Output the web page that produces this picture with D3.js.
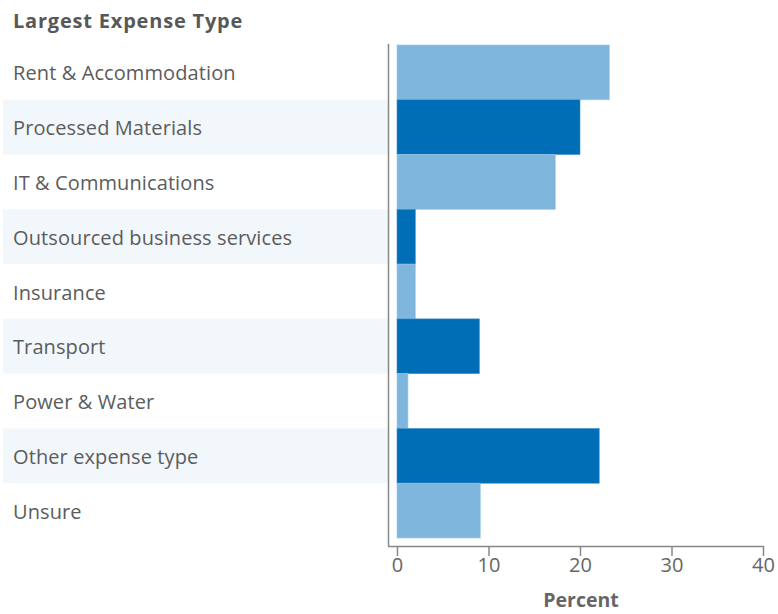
<!DOCTYPE html>
<html>
<head>
<meta charset="utf-8">
<script src="https://cdn.jsdelivr.net/npm/d3@7"></script>
<style>
body{margin:0;background:#fff;}
svg{display:block;font-family:"Open Sans",sans-serif;}
</style>
</head>
<body>
<svg id="chart" width="778" height="614"></svg>
<script>
const categories = ["Rent & Accommodation","Processed Materials","IT & Communications","Outsourced business services","Insurance","Transport","Power & Water","Other expense type","Unsure"];
const values = [23.2, 20.0, 17.3, 2.0, 2.0, 9.0, 1.2, 22.1, 9.1];
const xTicks = [0, 10, 20, 30, 40];
const title = "Largest Expense Type";
const xTitle = "Percent";

const svg = d3.select("#chart");
const x = d3.scaleLinear().domain([0, 40]).range([397, 763]);
const y = d3.scaleBand().domain(categories).range([45, 538]).padding(0);

// alternating background bands
svg.selectAll("rect.band").data(categories.filter((d,i)=>i%2===1)).enter()
  .append("rect").attr("class","band")
  .attr("x",3).attr("width",385)
  .attr("y",d=>y(d)).attr("height",y.bandwidth())
  .attr("fill","#f2f7fc");

// bars
svg.selectAll("rect.bar").data(categories).enter()
  .append("rect").attr("class","bar")
  .attr("x",x(0)).attr("y",d=>y(d))
  .attr("width",(d,i)=>x(values[i])-x(0))
  .attr("height",y.bandwidth())
  .attr("fill",(d,i)=>i%2===0?"#7fb6dd":"#006eb6")
  .attr("stroke",(d,i)=>i%2===0?"#9cc8e6":"#3f92cb")
  .attr("stroke-width",0.6);

// category labels
svg.selectAll("text.cat").data(categories).enter()
  .append("text").attr("class","cat")
  .attr("x",13).attr("y",d=>y(d)+y.bandwidth()/2+8)
  .attr("fill","#5c5c5c").attr("font-size",20).attr("letter-spacing",0.1)
  .text(d=>d);

// title
svg.append("text").attr("x",13).attr("y",27.5)
  .attr("fill","#585858").attr("font-size",20).attr("font-weight","bold")
  .attr("letter-spacing",0.8)
  .text(title);

// vertical axis line
svg.append("line").attr("x1",388.5).attr("x2",388.5).attr("y1",44).attr("y2",546)
  .attr("stroke","#888").attr("stroke-width",1.5);

// x axis
const xAxis = d3.axisBottom(x).tickValues(xTicks).tickSize(10).tickPadding(2).tickFormat(d3.format("d"));
const gx = svg.append("g").attr("transform","translate(0,546)").call(xAxis);
gx.select(".domain").attr("d","M388,0.5H764").attr("stroke","#888").attr("stroke-width",1.5);
gx.selectAll(".tick line").attr("stroke","#888").attr("stroke-width",1.5);
gx.selectAll(".tick text").attr("fill","#666").attr("font-size",20).attr("font-family","'Open Sans',sans-serif");

svg.append("text").attr("x",581).attr("y",607).attr("text-anchor","middle")
  .attr("fill","#666").attr("font-size",19.5).attr("font-weight","bold")
  .text(xTitle);
</script>
</body>
</html>
